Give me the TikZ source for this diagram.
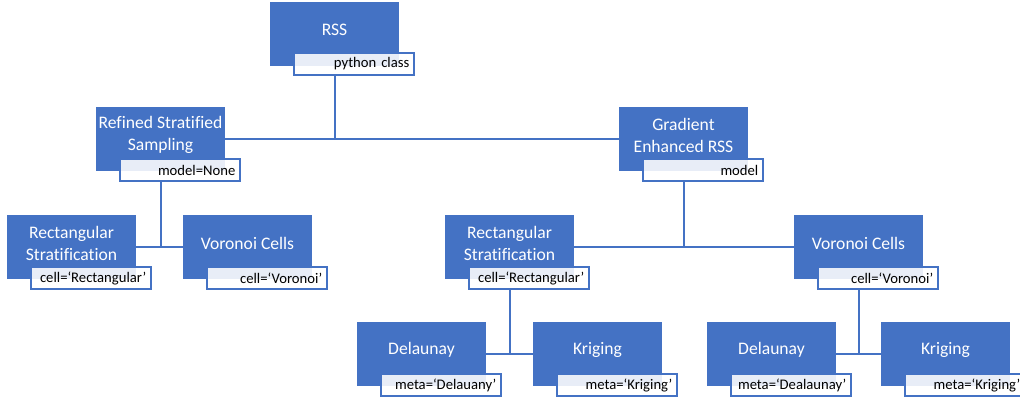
\documentclass[tikz,border=0pt]{standalone}
\usepackage{fontspec}
\setmainfont{Carlito}[Ligatures=NoCommon]
\definecolor{accent}{HTML}{4472C4}
\begin{document}
\begin{tikzpicture}[x=0.75pt,y=-0.75pt,
  box/.style={fill=accent, minimum width=96.75pt, minimum height=48pt,
    inner sep=0pt, outer sep=0pt, anchor=north west},
  boxtext/.style={text=white, font=\fontsize{13.2}{16.5}\selectfont,
    align=center, inner sep=0pt},
  tag/.style={draw=accent, line width=1.1pt, fill=white, fill opacity=0.88,
    text opacity=1, minimum height=16.5pt, text width=83pt, align=right,
    inner xsep=3.5pt, inner ysep=0pt, outer sep=0pt,
    font=\fontsize{11}{13}\selectfont, anchor=north west},
  link/.style={draw=accent, line width=1.5pt}]
\useasboundingbox (0,0) rectangle (1020,401);

% boxes: top-left corners in pixel units
\node[box] (rss)   at (270,2)   {};
\node[box] (ref)   at (96,107)  {};
\node[box] (grad)  at (619,107) {};
\node[box] (lrect) at (7,215)   {};
\node[box] (lvor)  at (183,215) {};
\node[box] (rrect) at (445,215) {};
\node[box] (rvor)  at (794,215) {};
\node[box] (dla)   at (357,322) {};
\node[box] (kra)   at (533,322) {};
\node[box] (dlb)   at (707,322) {};
\node[box] (krb)   at (881,322) {};

% captions inside the boxes
\node[boxtext] (rsst)   at ([yshift=3pt]rss.center)   {RSS};
\node[boxtext] (reft)   at ([yshift=3pt]ref.center)   {Refined Stratified\\Sampling};
\node[boxtext] (gradt)  at ([yshift=3pt]grad.center)  {Gradient\\Enhanced RSS};
\node[boxtext] (lrectt) at ([yshift=3pt]lrect.center) {Rectangular\\Stratification};
\node[boxtext] (lvort)  at ([yshift=3pt]lvor.center)  {Voronoi Cells};
\node[boxtext] (rrectt) at ([yshift=3pt]rrect.center) {Rectangular\\Stratification};
\node[boxtext] (rvort)  at ([yshift=3pt]rvor.center)  {Voronoi Cells};
\node[boxtext] (dlat)   at ([yshift=3pt]dla.center)   {Delaunay};
\node[boxtext] (krat)   at ([yshift=3pt]kra.center)   {Kriging};
\node[boxtext] (dlbt)   at ([yshift=3pt]dlb.center)   {Delaunay};
\node[boxtext] (krbt)   at ([yshift=3pt]krb.center)   {Kriging};

% parameter tags
\node[tag] (rsstag)   at (294,53)  {python class};
\node[tag] (reftag)   at (120,159) {model=None};
\node[tag] (gradtag)  at (643,159) {model};
\node[tag] (lrecttag) at (31,267)  {cell=‘Rectangular’};
\node[tag] (lvortag)  at (207,267) {cell=‘Voronoi’};
\node[tag] (rrecttag) at (469,267) {cell=‘Rectangular’};
\node[tag] (rvortag)  at (818,267) {cell=‘Voronoi’};
\node[tag] (dlatag)   at (381,374) {meta=‘Delauany’};
\node[tag] (kratag)   at (557,374) {meta=‘Kriging’};
\node[tag] (dlbtag)   at (731,374) {meta=‘Dealaunay’};
\node[tag] (krbtag)   at (905,374) {meta=‘Kriging’};

% tree connectors
\draw[link] (rss |- rsstag.south) -- (rss |- ref.east);
\draw[link] (ref.east) -- (grad.west);
\draw[link] (ref |- reftag.south) -- (ref |- lrect.east);
\draw[link] (lrect.east) -- (lvor.west);
\draw[link] (grad |- gradtag.south) -- (grad |- rrect.east);
\draw[link] (rrect.east) -- (rvor.west);
\draw[link] (rrect |- rrecttag.south) -- (rrect |- dla.east);
\draw[link] (dla.east) -- (kra.west);
\draw[link] (rvor |- rvortag.south) -- (rvor |- dlb.east);
\draw[link] (dlb.east) -- (krb.west);
\end{tikzpicture}
\end{document}
